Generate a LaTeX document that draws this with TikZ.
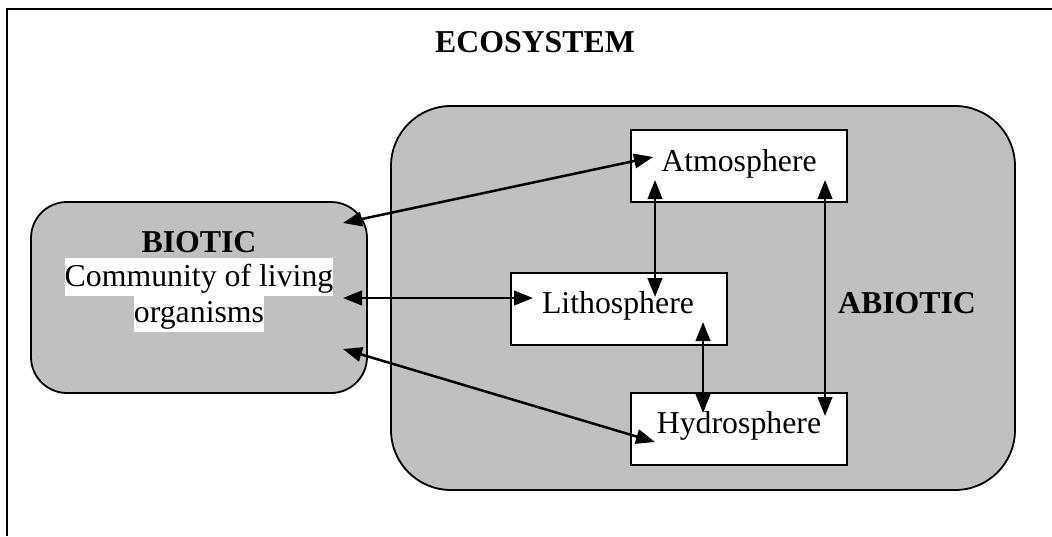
\documentclass[tikz,border=0pt]{standalone}
\usepackage{fontspec}
\setmainfont{Liberation Serif}
\usetikzlibrary{arrows.meta}
\definecolor{boxgray}{RGB}{192,192,192}
\tikzset{
  frameline/.style={line width=2pt},
  groupbox/.style={draw, fill=boxgray, line width=1.8pt, inner sep=0pt},
  spherebox/.style={draw, fill=white, line width=1.8pt, inner sep=0pt, minimum width=216pt, minimum height=72pt},
  txt/.style={anchor=base, inner sep=0pt, font=\fontsize{31.8}{36}\selectfont},
  bold/.style={txt, font=\fontsize{31.8}{36}\selectfont\bfseries},
  hl/.style={txt, fill=white, text height=28.5pt, text depth=10pt},
  link/.style={line width=2.5pt, {Triangle[length=19pt,width=14.5pt]}-{Triangle[length=19pt,width=14.5pt]}}
}
\begin{document}
\begin{tikzpicture}[x=1pt,y=-1pt]
\useasboundingbox (0,0) rectangle (1052,536);
% outer frame (only top and left edges visible)
\draw[frameline] (1052,9) -- (7,9) -- (7,536);
\node[bold] (eco) at (535,52) {ECOSYSTEM};
% abiotic group
\node[groupbox, rounded corners=60pt, minimum width=624pt, minimum height=384pt] (abiotic) at (703,298) {};
\node[bold] (abiotict) at (907,313) {ABIOTIC};
% biotic group
\node[groupbox, rounded corners=36pt, minimum width=336pt, minimum height=191pt] (biotic) at (199,297.5) {};
\node[bold] (biotict) at (199,252) {BIOTIC};
\node[hl] (comm1) at (199,286) {Community of living};
\node[hl] (comm2) at (199,322) {organisms};
% spheres
\node[spherebox] (atm) at (739,166) {};
\node[txt] (atmt) at (739,171) {Atmosphere};
\node[spherebox] (lith) at (619,309) {};
\node[txt] (litht) at (618,313) {Lithosphere};
\node[spherebox] (hyd) at (739,429) {};
\node[txt] (hydt) at (739,433) {Hydrosphere};
% connector ends
\coordinate (bA) at (343,223);
\coordinate (bL) at (343,298);
\coordinate (bH) at (343,349);
\coordinate (aB) at (653,157);
\coordinate (lB) at (533,298);
\coordinate (hB) at (655,442);
\coordinate (aL) at (655,180);
\coordinate (lA) at (655,297);
\coordinate (lH) at (703,322);
\coordinate (hL) at (703,413);
\coordinate (aH) at (825,180);
\coordinate (hA) at (825,416);
% connectors
\draw[link] (bA) -- (aB);
\draw[link] (bL) -- (lB);
\draw[link] (bH) -- (hB);
\draw[link] (aL) -- (lA);
\draw[link] (lH) -- (hL);
\draw[link] (aH) -- (hA);
\end{tikzpicture}
\end{document}
